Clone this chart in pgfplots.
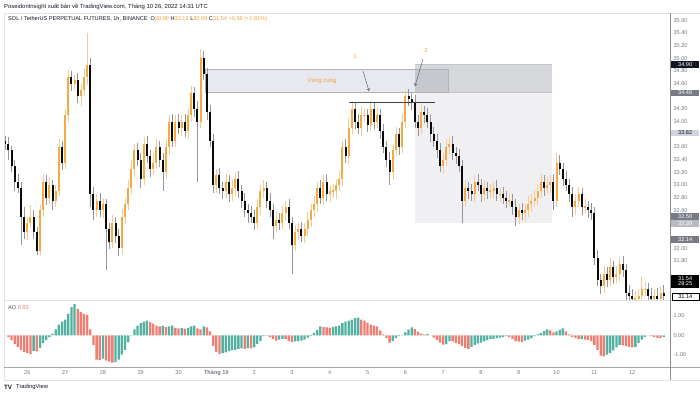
\documentclass[border=0pt]{standalone}
\usepackage{fontspec}
\setmainfont{Liberation Sans}
\usepackage{pgfplots}
\usepackage{pgfplotstable}
\usetikzlibrary{arrows.meta}
\pgfplotsset{compat=1.18}
\definecolor{upc}{RGB}{246,168,66}
\definecolor{upw}{RGB}{248,202,145}
\definecolor{dnc}{RGB}{10,10,12}
\definecolor{dnw}{RGB}{150,150,154}
\definecolor{aogreen}{RGB}{82,178,162}
\definecolor{aored}{RGB}{238,125,115}
\definecolor{tickgray}{RGB}{120,123,134}
\definecolor{tvdark}{RGB}{19,23,34}
\definecolor{tvorange}{RGB}{245,160,60}
\definecolor{linegray}{RGB}{224,227,235}
\definecolor{zlow}{RGB}{240,240,243}
\definecolor{zbig}{RGB}{214,215,219}
\definecolor{zbigb}{RGB}{196,198,204}
\definecolor{zvung}{RGB}{232,233,238}
\definecolor{zover}{RGB}{198,200,205}
\definecolor{zvungb}{RGB}{175,177,185}
\definecolor{labgray}{RGB}{120,123,134}
\definecolor{lablight}{RGB}{209,212,220}
\definecolor{labmid}{RGB}{184,187,196}
\newcommand\fs{\fontsize{5.6}{6.5}\selectfont}

\pgfplotstableread{
c uw lw ao
33.65 0.08 0.10 0.00
33.55 0.10 0.15 -0.10
33.30 0.06 0.10 -0.25
33.05 0.10 0.15 -0.45
32.95 0.12 0.08 -0.60
32.50 0.10 0.45 -0.75
32.25 0.15 0.10 -0.85
32.40 0.10 0.12 -0.92
32.50 0.18 0.08 -0.95
32.25 0.10 0.10 -0.80
31.95 0.08 0.06 -0.83
32.60 0.10 0.05 -0.65
33.05 0.12 0.10 -0.40
32.80 0.10 0.12 -0.25
33.00 0.12 0.10 -0.08
32.75 0.08 0.15 0.08
32.90 0.10 0.10 0.30
33.60 0.12 0.08 0.55
33.35 0.10 0.12 0.70
34.10 0.10 0.10 0.80
34.70 0.12 0.10 1.10
34.60 0.10 0.12 1.45
34.65 0.08 0.10 1.60
34.40 0.12 0.10 1.35
34.50 0.10 0.15 1.20
34.70 0.15 0.10 1.10
34.90 0.50 0.12 1.05
32.85 0.10 0.20 0.30
32.60 0.12 0.15 -0.50
32.75 0.10 0.10 -1.25
32.60 0.12 0.10 -1.28
32.70 0.10 0.12 -1.20
32.30 0.08 0.65 -1.30
32.10 0.10 0.12 -1.35
32.40 0.12 0.10 -1.40
32.20 0.10 0.12 -1.38
32.00 0.10 0.12 -1.25
32.50 0.12 0.10 -1.00
32.70 0.10 0.12 -0.75
32.95 0.12 0.10 -0.35
33.25 0.15 0.10 -0.02
33.55 0.10 0.12 0.30
33.40 0.12 0.10 0.50
33.10 0.10 0.15 0.62
33.65 0.10 0.10 0.70
33.45 0.12 0.10 0.75
33.25 0.10 0.12 0.68
33.35 0.15 0.10 0.60
33.60 0.12 0.10 0.50
33.40 0.10 0.12 0.45
33.20 0.10 0.30 0.48
33.60 0.12 0.10 0.42
34.00 0.10 0.12 0.45
33.70 0.12 0.10 0.50
34.00 0.10 0.10 0.38
33.90 0.12 0.10 0.35
34.00 0.10 0.12 0.36
33.85 0.12 0.10 0.34
34.10 0.10 0.12 0.38
34.45 0.12 0.10 0.45
34.20 0.10 0.12 0.50
34.00 0.12 0.95 0.35
35.00 0.15 0.10 0.30
34.75 0.12 0.10 0.45
34.15 0.10 0.12 0.40
33.70 0.12 0.10 0.20
33.00 0.10 0.12 -0.55
33.15 0.10 0.12 -0.85
32.95 0.12 0.10 -0.95
32.90 0.10 0.12 -0.92
33.05 0.12 0.10 -0.88
32.85 0.10 0.12 -0.82
32.95 0.12 0.10 -0.78
33.10 0.10 0.12 -0.75
32.90 0.12 0.10 -0.70
32.75 0.10 0.12 -0.68
32.60 0.12 0.10 -0.70
32.55 0.10 0.15 -0.66
32.50 0.12 0.10 -0.67
32.40 0.10 0.12 -0.62
32.65 0.12 0.10 -0.45
32.90 0.10 0.12 -0.30
32.95 0.12 0.10 -0.05
32.75 0.10 0.12 -0.02
32.60 0.12 0.10 -0.10
32.35 0.10 0.20 -0.20
32.45 0.12 0.10 -0.28
32.40 0.10 0.12 -0.22
32.55 0.12 0.10 -0.18
32.65 0.10 0.12 -0.20
32.40 0.12 0.10 -0.30
32.05 0.10 0.45 -0.35
32.25 0.12 0.10 -0.32
32.30 0.10 0.12 -0.30
32.20 0.12 0.10 -0.28
32.30 0.10 0.12 -0.22
32.45 0.12 0.10 -0.12
32.60 0.10 0.12 -0.05
32.70 0.12 0.10 0.12
32.95 0.10 0.12 0.28
32.80 0.12 0.10 0.45
33.05 0.10 0.12 0.42
32.85 0.12 0.10 0.40
32.90 0.10 0.12 0.38
32.90 0.12 0.10 0.42
33.00 0.10 0.12 0.45
33.10 0.12 0.10 0.50
33.60 0.10 0.12 0.62
33.45 0.12 0.10 0.70
33.90 0.15 0.12 0.75
34.20 0.12 0.10 0.80
34.00 0.10 0.12 0.88
33.90 0.12 0.10 0.90
34.10 0.15 0.12 0.80
34.10 0.12 0.10 0.75
33.95 0.10 0.12 0.65
34.20 0.12 0.10 0.55
34.00 0.10 0.12 0.50
34.10 0.12 0.10 0.45
33.85 0.10 0.12 0.25
33.60 0.12 0.10 0.05
33.40 0.10 0.12 -0.15
33.20 0.12 0.20 -0.38
33.55 0.10 0.12 -0.30
33.80 0.12 0.10 -0.15
33.60 0.10 0.12 -0.05
34.00 0.12 0.10 0.00
34.40 0.10 0.10 0.15
34.35 0.12 0.10 0.30
34.30 0.10 0.12 0.40
34.00 0.12 0.10 0.32
33.90 0.10 0.12 0.18
34.15 0.12 0.10 0.08
34.10 0.10 0.12 0.05
34.00 0.12 0.10 0.06
33.80 0.10 0.12 0.00
33.70 0.12 0.10 -0.12
33.55 0.10 0.12 -0.25
33.30 0.12 0.10 -0.38
33.40 0.10 0.12 -0.48
33.60 0.12 0.10 -0.45
33.65 0.10 0.12 -0.30
33.50 0.12 0.10 -0.32
33.45 0.10 0.12 -0.40
33.30 0.12 0.10 -0.45
32.75 0.10 0.35 -0.55
32.95 0.12 0.10 -0.65
32.90 0.10 0.12 -0.70
32.85 0.12 0.10 -0.60
33.05 0.10 0.12 -0.50
33.00 0.12 0.10 -0.42
32.85 0.10 0.12 -0.38
32.95 0.12 0.10 -0.30
32.90 0.10 0.12 -0.25
32.90 0.12 0.10 -0.20
32.95 0.10 0.12 -0.18
32.85 0.12 0.10 -0.15
32.85 0.10 0.12 -0.12
32.80 0.12 0.10 -0.10
32.75 0.10 0.12 -0.05
32.75 0.12 0.10 -0.10
32.65 0.10 0.12 -0.20
32.50 0.12 0.15 -0.30
32.60 0.10 0.12 -0.33
32.55 0.12 0.10 -0.35
32.60 0.10 0.12 -0.28
32.70 0.12 0.10 -0.22
32.75 0.10 0.12 -0.15
32.80 0.12 0.10 -0.05
32.90 0.10 0.12 0.05
33.05 0.12 0.10 0.12
32.95 0.10 0.12 0.22
33.00 0.12 0.10 0.30
33.05 0.10 0.12 0.25
32.75 0.12 0.15 0.15
33.35 0.15 0.10 0.20
33.25 0.12 0.10 0.28
33.10 0.10 0.12 0.35
33.00 0.12 0.10 0.20
32.85 0.10 0.12 0.05
32.65 0.12 0.15 -0.08
32.75 0.10 0.12 -0.15
32.85 0.12 0.10 -0.20
32.65 0.10 0.12 -0.20
32.65 0.12 0.10 -0.22
32.60 0.10 0.12 -0.24
32.55 0.12 0.10 -0.30
31.85 0.10 0.12 -0.50
31.50 0.12 0.10 -0.75
31.40 0.10 0.12 -1.05
31.60 0.12 0.10 -1.08
31.50 0.10 0.12 -1.00
31.70 0.15 0.10 -0.90
31.55 0.10 0.12 -0.78
31.60 0.12 0.10 -0.62
31.75 0.10 0.12 -0.50
31.65 0.12 0.10 -0.52
31.30 0.10 0.12 -0.56
31.25 0.12 0.10 -0.60
31.20 0.10 0.12 -0.62
31.20 0.12 0.10 -0.60
31.25 0.10 0.12 -0.40
31.35 0.20 0.10 -0.22
31.35 0.12 0.10 -0.08
31.25 0.10 0.12 0.00
31.20 0.12 0.10 -0.05
31.25 0.10 0.12 -0.10
31.20 0.12 0.10 -0.13
31.30 0.10 0.12 -0.15
31.25 0.12 0.10 -0.08
}\data

\pgfplotstablecreatecol[create col/expr={(\pgfplotstablerow-7)/12}]{x}\data
\pgfplotstablecreatecol[create col/assign/.code={%
  \ifnum\pgfplotstablerow=0 \def\entry{33.70}\else\getprevrow{c}{\entry}\fi
  \pgfkeyslet{/pgfplots/table/create col/next content}\entry}]{o}\data
\pgfplotstablecreatecol[create col/assign/.code={%
  \getthisrow{o}{\vo}\getthisrow{c}{\vc}%
  \ifdim\vc pt<\vo pt \def\entry{nan}\else\pgfmathsetmacro\entry{(\vo+\vc)/2}\fi
  \pgfkeyslet{/pgfplots/table/create col/next content}\entry}]{ub}\data
\pgfplotstablecreatecol[create col/assign/.code={%
  \getthisrow{o}{\vo}\getthisrow{c}{\vc}%
  \ifdim\vc pt<\vo pt \pgfmathsetmacro\entry{(\vo+\vc)/2}\else\def\entry{nan}\fi
  \pgfkeyslet{/pgfplots/table/create col/next content}\entry}]{db}\data
\pgfplotstablecreatecol[create col/assign/.code={%
  \getthisrow{o}{\vo}\getthisrow{c}{\vc}%
  \pgfmathsetmacro\entry{max(abs(\vc-\vo)/2,0.012)}%
  \pgfkeyslet{/pgfplots/table/create col/next content}\entry}]{be}\data
\pgfplotstablecreatecol[create col/assign/.code={%
  \getthisrow{o}{\vo}\getthisrow{c}{\vc}\getthisrow{uw}{\vu}\getthisrow{lw}{\vl}%
  \ifdim\vc pt<\vo pt \def\entry{nan}\else\pgfmathsetmacro\entry{(\vo+\vc+\vu-\vl)/2}\fi
  \pgfkeyslet{/pgfplots/table/create col/next content}\entry}]{uwm}\data
\pgfplotstablecreatecol[create col/assign/.code={%
  \getthisrow{o}{\vo}\getthisrow{c}{\vc}\getthisrow{uw}{\vu}\getthisrow{lw}{\vl}%
  \ifdim\vc pt<\vo pt \pgfmathsetmacro\entry{(\vo+\vc+\vu-\vl)/2}\else\def\entry{nan}\fi
  \pgfkeyslet{/pgfplots/table/create col/next content}\entry}]{dwm}\data
\pgfplotstablecreatecol[create col/assign/.code={%
  \getthisrow{o}{\vo}\getthisrow{c}{\vc}\getthisrow{uw}{\vu}\getthisrow{lw}{\vl}%
  \pgfmathsetmacro\entry{(abs(\vc-\vo)+\vu+\vl)/2}%
  \pgfkeyslet{/pgfplots/table/create col/next content}\entry}]{we}\data
\pgfplotstablecreatecol[create col/assign/.code={%
  \getthisrow{ao}{\va}%
  \ifnum\pgfplotstablerow=0 \def\vp{1}\else\getprevrow{ao}{\vp}\fi
  \ifdim\va pt<\vp pt \def\entry{nan}\else\edef\entry{\va}\fi
  \pgfkeyslet{/pgfplots/table/create col/next content}\entry}]{aoup}\data
\pgfplotstablecreatecol[create col/assign/.code={%
  \getthisrow{ao}{\va}%
  \ifnum\pgfplotstablerow=0 \def\vp{1}\else\getprevrow{ao}{\vp}\fi
  \ifdim\va pt<\vp pt \edef\entry{\va}\else\def\entry{nan}\fi
  \pgfkeyslet{/pgfplots/table/create col/next content}\entry}]{aodn}\data

\begin{document}
\begin{tikzpicture}[x=1pt,y=1pt]
\path[use as bounding box, fill=white] (0,0) rectangle (700,395);
% frame lines
\draw[linegray, line width=0.5pt] (4,382) -- (700,382);
\draw[linegray, line width=0.5pt] (4,382) -- (4,15);
\draw[linegray, line width=0.6pt] (4,95) -- (700,95);
\draw[black!35, line width=0.6pt] (4,28) -- (700,28);
\draw[linegray, line width=0.5pt] (4,15) -- (700,15);
\draw[black!45, line width=0.6pt] (670,382) -- (670,15);
% zones (behind candles)
\fill[zlow] (415,303) rectangle (552,172);
\fill[zbig] (415,331) rectangle (552,303);
\draw[zbigb, line width=0.6pt] (415,331) -- (552,331);
\draw[zbigb, line width=0.6pt] (415,303) -- (552,303);
\fill[zvung] (205,326) rectangle (448,303);
\fill[zover] (415,326) rectangle (448,303);
\draw[zvungb, line width=0.6pt] (205,326) -- (448,326) -- (448,303) -- (205,303) -- cycle;
\node[font=\fontsize{6}{7}\selectfont, text=tvorange] at (322,314) {Vùng cung};

\begin{axis}[
  at={(5pt,95pt)}, anchor=south west, scale only axis,
  width=665pt, height=287pt,
  xmin=-0.59, xmax=17.0, ymin=31.182, ymax=35.716,
  axis line style={draw=none},
  xtick=\empty,
  ytick={31.8,32.0,32.6,32.8,33.0,33.2,33.4,33.6,34.0,34.2,34.6,34.8,35.0,35.2,35.4,35.6},
  yticklabel pos=right,
  major tick length=0pt,
  yticklabel style={font=\fs, text=tickgray, /pgf/number format/fixed, /pgf/number format/fixed zerofill, /pgf/number format/precision=2, /pgf/number format/assume math mode=true},
  unbounded coords=discard,
  clip=true,
]
\addplot[draw=none, mark=none, forget plot, error bars/.cd, y dir=both, y explicit, error mark=none,
  error bar style={draw=upw, line width=0.5pt}] table[x=x, y=uwm, y error=we] {\data};
\addplot[draw=none, mark=none, forget plot, error bars/.cd, y dir=both, y explicit, error mark=none,
  error bar style={draw=dnw, line width=0.5pt}] table[x=x, y=dwm, y error=we] {\data};
\addplot[draw=none, mark=none, forget plot, error bars/.cd, y dir=both, y explicit, error mark=none,
  error bar style={draw=upc, line width=2pt}] table[x=x, y=ub, y error=be] {\data};
\addplot[draw=none, mark=none, forget plot, error bars/.cd, y dir=both, y explicit, error mark=none,
  error bar style={draw=dnc, line width=2pt}] table[x=x, y=db, y error=be] {\data};
\end{axis}

\begin{axis}[
  at={(5pt,28pt)}, anchor=south west, scale only axis,
  width=665pt, height=67pt,
  xmin=-0.59, xmax=17.0, ymin=-1.63, ymax=1.81,
  axis line style={draw=none},
  xtick={0,...,16},
  xticklabels={26,27,28,29,30,\textbf{Tháng 10},2,3,4,5,6,7,8,9,10,11,12},
  xticklabel style={font=\fs, text=tickgray},
  ytick={-1,0,1},
  yticklabel pos=right,
  major tick length=0pt,
  yticklabel style={font=\fs, text=tickgray, /pgf/number format/fixed, /pgf/number format/fixed zerofill, /pgf/number format/precision=2, /pgf/number format/assume math mode=true},
  unbounded coords=discard,
  clip=true,
]
\addplot[ybar, bar width=2.3pt, bar shift=0pt, fill=aogreen, draw=none] table[x=x, y=aoup] {\data};
\addplot[ybar, bar width=2.3pt, bar shift=0pt, fill=aored, draw=none] table[x=x, y=aodn] {\data};
\end{axis}

% annotations
\draw[black!75, line width=0.5pt] (349,292.7) -- (435,292.7);
\draw[black!65, line width=0.45pt, -{Straight Barb[length=2.2pt,width=3pt]}] (363,324) -- (369,304);
\draw[black!65, line width=0.45pt, -{Straight Barb[length=2.2pt,width=3pt]}] (423,336) -- (415,309);
\node[font=\fontsize{6}{7}\selectfont, text=tvorange] at (355,339) {1};
\node[font=\fontsize{6}{7}\selectfont, text=tvorange] at (426,345) {2};

% header
\node[anchor=west, font=\fontsize{5.9}{7}\selectfont, text=tvdark, inner sep=0pt] at (4,388) {PoseidonInsight xuất bản về TradingView.com, Tháng 10 26, 2022 14:31 UTC};
\node[anchor=west, font=\fontsize{5.6}{7}\selectfont, text=tvdark, inner sep=0pt] at (8,376) {SOL / TetherUS PERPETUAL FUTURES, 1h, BINANCE\ \ O\textcolor{tvorange}{30.99} H\textcolor{tvorange}{32.19} L\textcolor{tvorange}{30.99} C\textcolor{tvorange}{31.54} \textcolor{tvorange}{+0.56 (+1.81\%)}};
\node[anchor=west, font=\fontsize{5.6}{7}\selectfont, text=black!70, inner sep=0pt] at (8,87) {AO \textcolor{aored}{0.93}};

% right price labels
\tikzset{plab/.style={anchor=west, minimum width=28pt, minimum height=6.6pt, inner sep=0pt, font=\fs}}
\node[plab, fill=tvdark, text=white] at (671,330.7) {34.90};
\node[plab, fill=labgray, text=white] at (671,302) {34.46};
\node[plab, fill=lablight, text=tvdark] at (671,262) {33.82};
\node[plab, fill=labgray, text=white] at (671,178.6) {32.50};
\node[plab, fill=labmid, text=white] at (671,171.3) {32.39};
\node[plab, fill=labgray, text=white] at (671,155.7) {32.14};
\node[anchor=west, minimum width=28pt, minimum height=13pt, inner sep=0pt, fill=black, text=white, font=\fs, align=center] at (671,113.7) {31.54\\[-1.5pt]28:25};
\node[plab, fill=white, draw=black, line width=0.5pt, text=black, minimum width=27pt] at (671.5,98.5) {31.14};

% logo
\node[anchor=west, font=\fontsize{6.2}{7}\selectfont\bfseries, text=tvdark, inner sep=0pt] at (4,7.5) {TV};
\node[anchor=west, font=\fontsize{5.8}{7}\selectfont, text=tvdark, inner sep=0pt] at (16,7.5) {TradingView};
\end{tikzpicture}
\end{document}
